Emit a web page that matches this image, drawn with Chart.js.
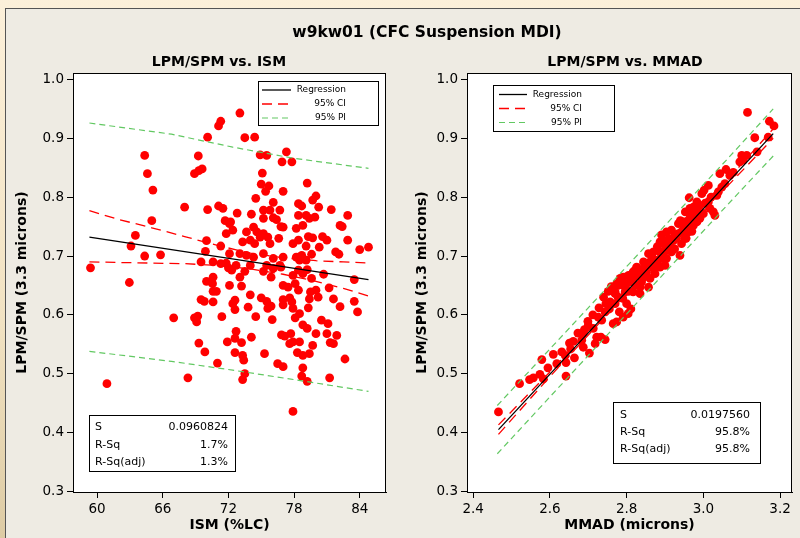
<!DOCTYPE html>
<html>
<head>
<meta charset="utf-8">
<script src="https://cdn.jsdelivr.net/npm/chart.js@4.4.0/dist/chart.umd.min.js"></script>
<style>
html, body { margin: 0; padding: 0; }
body { width: 800px; height: 538px; overflow: hidden; position: relative;
  background: linear-gradient(180deg, #fcf0da 0%, #f1e2c2 60%, #ddcba4 100%);
  font-family: "DejaVu Sans", sans-serif; }
#panel { position: absolute; left: 5px; top: 8px; width: 840px; height: 560px;
  background: #eeebe3; border-left: 1px solid #555; border-top: 1px solid #555; }
.ttl { position: absolute; font-weight: bold; white-space: nowrap; color: #000;
  transform: translate(-50%, -50%); }
canvas { position: absolute; top: 0; }
</style>
</head>
<body>
<div id="panel"></div>
<canvas id="left" width="400" height="538" style="left:0"></canvas>
<canvas id="right" width="400" height="538" style="left:400px"></canvas>
<div class="ttl" style="left:427px;top:32px;font-size:15.5px">w9kw01 (CFC Suspension MDI)</div>
<div class="ttl" style="left:219px;top:61px;font-size:14px">LPM/SPM vs. ISM</div>
<div class="ttl" style="left:625px;top:61px;font-size:14px">LPM/SPM vs. MMAD</div>
<script>
// ---- left panel: LPM/SPM vs ISM ----
const ismX = [71.3, 71.1, 70.1, 64.35, 69.25, 64.6, 68.9, 69.3, 69.6, 65.1,
  68.0, 70.1, 71.1, 71.5, 65.0, 71.7, 72.2, 63.5, 71.8, 63.1,
  70.0, 71.3, 69.9, 64.35, 65.8, 59.4, 69.5, 70.6, 71.3, 71.8,
  72.0, 73.05, 73.5, 74.4, 74.9, 75.5, 77.3, 76.9, 77.8, 75.1,
  75.0, 75.7, 75.4, 79.2, 77.0, 74.5, 80.0, 79.7, 72.8, 74.1,
  76.1, 75.2, 75.8, 76.7, 78.4, 78.7, 80.25, 81.4, 82.9, 75.2,
  76.1, 76.4, 76.8, 77.0, 78.4, 79.1, 79.4, 79.9, 72.1, 72.4,
  73.65, 74.3, 74.6, 75.2, 78.2, 78.8, 82.2, 82.4, 73.3, 74.0,
  74.4, 74.9, 75.6, 75.8, 76.6, 77.9, 78.4, 79.3, 79.7, 80.6,
  81.0, 82.9, 79.1, 80.3, 81.8, 82.1, 84.0, 84.8, 72.1, 73.05,
  73.65, 74.3, 75.2, 76.1, 77.0, 78.2, 78.7, 79.6, 72.7, 74.0,
  75.5, 76.7, 78.5, 79.1, 62.95, 70.0, 70.6, 70.55, 70.6, 70.9,
  72.1, 69.5, 69.8, 70.6, 72.4, 72.6, 67.0, 68.9, 69.2, 69.1,
  71.4, 69.3, 71.9, 72.6, 69.85, 71.0, 68.3, 60.9, 72.6, 72.3,
  73.5, 75.2, 76.1, 76.8, 78.4, 79.2, 73.05, 75.9, 77.9, 78.8,
  79.6, 80.7, 83.5, 73.2, 77.0, 77.45, 78.1, 78.4, 79.5, 80.0,
  81.2, 74.0, 75.0, 75.5, 77.0, 77.6, 77.8, 79.4, 80.2, 81.6,
  83.5, 72.6, 73.8, 75.9, 75.6, 77.0, 77.9, 79.3, 82.2, 83.8,
  74.5, 76.0, 78.1, 78.5, 80.5, 81.1, 78.8, 79.2, 72.7, 73.2,
  74.1, 76.85, 77.15, 77.7, 77.6, 77.9, 78.5, 80.0, 81.0, 81.3,
  81.6, 81.9, 79.7, 73.3, 73.4, 75.3, 78.3, 78.8, 79.4, 82.65,
  76.5, 77.0, 78.8, 73.5, 73.3, 78.7, 79.2, 81.25, 77.9];
const ismY = [0.929, 0.921, 0.902, 0.871, 0.870, 0.840, 0.840, 0.845, 0.848, 0.812,
  0.783, 0.779, 0.785, 0.781, 0.760, 0.760, 0.758, 0.735, 0.738, 0.717,
  0.726, 0.717, 0.708, 0.700, 0.702, 0.680, 0.690, 0.690, 0.687, 0.688,
  0.680, 0.943, 0.901, 0.902, 0.872, 0.871, 0.877, 0.860, 0.860, 0.841,
  0.822, 0.819, 0.810, 0.824, 0.810, 0.798, 0.802, 0.795, 0.773, 0.771,
  0.791, 0.778, 0.778, 0.778, 0.789, 0.785, 0.783, 0.779, 0.769, 0.764,
  0.765, 0.762, 0.750, 0.749, 0.769, 0.769, 0.764, 0.766, 0.755, 0.744,
  0.741, 0.749, 0.741, 0.738, 0.747, 0.752, 0.752, 0.750, 0.724, 0.727,
  0.721, 0.732, 0.732, 0.721, 0.730, 0.721, 0.727, 0.733, 0.731, 0.733,
  0.727, 0.727, 0.717, 0.715, 0.707, 0.703, 0.711, 0.715, 0.704, 0.704,
  0.701, 0.698, 0.704, 0.696, 0.698, 0.698, 0.701, 0.703, 0.684, 0.684,
  0.684, 0.684, 0.693, 0.693, 0.655, 0.657, 0.664, 0.653, 0.640, 0.640,
  0.650, 0.626, 0.623, 0.622, 0.619, 0.625, 0.595, 0.595, 0.598, 0.588,
  0.597, 0.552, 0.554, 0.560, 0.537, 0.518, 0.493, 0.483, 0.536, 0.676,
  0.674, 0.674, 0.679, 0.681, 0.676, 0.677, 0.664, 0.664, 0.667, 0.670,
  0.662, 0.669, 0.660, 0.649, 0.650, 0.647, 0.653, 0.642, 0.639, 0.642,
  0.646, 0.634, 0.629, 0.623, 0.626, 0.629, 0.622, 0.627, 0.630, 0.627,
  0.623, 0.609, 0.613, 0.615, 0.611, 0.617, 0.611, 0.612, 0.614, 0.605,
  0.597, 0.592, 0.595, 0.602, 0.591, 0.585, 0.583, 0.577, 0.572, 0.553,
  0.562, 0.566, 0.564, 0.568, 0.551, 0.554, 0.554, 0.568, 0.568, 0.553,
  0.551, 0.565, 0.548, 0.531, 0.523, 0.534, 0.536, 0.531, 0.534, 0.525,
  0.517, 0.512, 0.510, 0.500, 0.490, 0.496, 0.487, 0.493, 0.436];

const regLX = [59.3, 84.8];
const regLY = [0.732, 0.660];
const ciLX = [59.3, 62, 65, 68, 71, 74, 77, 80, 82.5, 84.8];
const ciLUp = [0.777, 0.762, 0.748, 0.733, 0.718, 0.705, 0.697, 0.692, 0.690, 0.688];
const ciLLo = [0.690, 0.689, 0.688, 0.687, 0.684, 0.678, 0.669, 0.657, 0.645, 0.632];
const piLX = [59.3, 66.8, 72.4, 78, 84.8];
const piLUp = [0.926, 0.907, 0.885, 0.866, 0.849];
const piLLo = [0.538, 0.521, 0.506, 0.490, 0.470];

// ---- right panel: LPM/SPM vs MMAD ----
const mmadX = [2.466, 2.521, 2.547, 2.557, 2.574, 2.583, 2.579, 2.595, 2.609, 2.618,
  2.631, 2.640, 2.642, 2.642, 2.651, 2.661, 2.654, 2.664, 2.673, 2.687,
  2.683, 2.687, 2.703, 2.699, 2.713, 2.722, 2.718, 2.726, 2.735, 2.733,
  2.744, 2.746, 2.755, 2.744, 2.757, 2.765, 2.774, 2.781, 2.791, 2.804,
  2.811, 2.800, 2.774, 2.783, 2.791, 2.800, 2.805, 2.817, 2.822, 2.826,
  2.830, 2.770, 2.778, 2.770,
  3.115, 3.172, 3.184, 3.134, 3.169, 3.140, 3.100, 3.113, 3.104, 3.095,
  3.043, 3.059, 3.069, 3.078, 3.056, 3.048, 3.039, 3.035, 3.013, 3.002,
  2.996, 2.963, 2.983, 2.991, 2.974, 2.965, 3.013, 3.017, 3.026, 3.030,
  2.953, 2.966, 2.978, 2.991, 3.000, 2.935, 2.948, 2.961, 2.974, 2.983,
  2.891, 2.904, 2.917, 2.926, 2.943, 2.961, 2.887, 2.900, 2.913, 2.930,
  2.943, 2.952, 2.857, 2.870, 2.887, 2.904, 2.917, 2.939, 2.844, 2.861,
  2.874, 2.891, 2.904, 2.848, 2.870, 2.887, 2.900, 2.817, 2.830, 2.844,
  2.861, 2.874, 2.857, 2.835, 2.809, 2.783, 2.778, 2.796, 2.817, 2.835,
  2.770,
  2.805, 2.823, 2.839, 2.852, 2.866, 2.880, 2.895, 2.910, 2.922, 2.935,
  2.948, 2.960, 2.972, 2.985, 2.880, 2.866, 2.846, 2.828, 2.812, 2.795,
  2.790, 2.752, 2.760, 2.925, 2.910, 2.895, 2.940, 2.955, 2.970, 3.005,
  3.020, 2.740, 2.728, 2.712, 2.700, 2.690];
const mmadY = [0.435, 0.483, 0.490, 0.493, 0.499, 0.491, 0.524, 0.510, 0.533, 0.517,
  0.537, 0.531, 0.519, 0.496, 0.552, 0.555, 0.542, 0.527, 0.569, 0.569,
  0.557, 0.545, 0.535, 0.589, 0.577, 0.562, 0.551, 0.596, 0.591, 0.562,
  0.558, 0.619, 0.610, 0.605, 0.622, 0.585, 0.588, 0.605, 0.596, 0.602,
  0.610, 0.619, 0.653, 0.659, 0.664, 0.653, 0.667, 0.662, 0.676, 0.681,
  0.670, 0.636, 0.630, 0.619,
  0.944, 0.929, 0.921, 0.901, 0.902, 0.877, 0.871, 0.871, 0.863, 0.860,
  0.840, 0.847, 0.837, 0.842, 0.823, 0.817, 0.809, 0.803, 0.820, 0.812,
  0.806, 0.799, 0.792, 0.786, 0.783, 0.781, 0.792, 0.781, 0.775, 0.769,
  0.775, 0.766, 0.769, 0.764, 0.772, 0.755, 0.758, 0.752, 0.752, 0.758,
  0.736, 0.741, 0.744, 0.735, 0.741, 0.741, 0.724, 0.718, 0.724, 0.730,
  0.721, 0.730, 0.704, 0.707, 0.707, 0.710, 0.707, 0.701, 0.690, 0.690,
  0.693, 0.696, 0.696, 0.681, 0.679, 0.681, 0.684, 0.673, 0.667, 0.664,
  0.662, 0.670, 0.647, 0.647, 0.656, 0.662, 0.650, 0.639, 0.639, 0.636,
  0.639,
  0.640, 0.651, 0.656, 0.672, 0.684, 0.689, 0.703, 0.716, 0.726, 0.738,
  0.745, 0.760, 0.770, 0.776, 0.716, 0.699, 0.676, 0.680, 0.668, 0.648,
  0.628, 0.640, 0.648, 0.712, 0.730, 0.726, 0.760, 0.730, 0.742, 0.790,
  0.800, 0.630, 0.612, 0.600, 0.582, 0.575];

const regRX = [2.466, 3.182];
const regRY = [0.405, 0.908];
const ciRX = [2.466, 2.6, 2.75, 2.85, 3.0, 3.182];
const ciRUp = [0.413, 0.503, 0.608, 0.678, 0.784, 0.916];
const ciRLo = [0.397, 0.495, 0.601, 0.672, 0.776, 0.900];
const piRX = [2.463, 2.7, 2.9, 3.06, 3.182];
const piRUp = [0.446, 0.612, 0.752, 0.863, 0.950];
const piRLo = [0.364, 0.531, 0.672, 0.785, 0.870];

const yTicks = [0.3, 0.4, 0.5, 0.6, 0.7, 0.8, 0.9, 1.0];
const xTicksL = [60, 66, 72, 78, 84];
const xTicksR = [2.4, 2.6, 2.8, 3.0, 3.2];
const legendLabels = ['Regression', '95% CI', '95% PI'];
const statNames = ['S', 'R-Sq', 'R-Sq(adj)'];
const statsL = ['0.0960824', '1.7%', '1.3%'];
const statsR = ['0.0197560', '95.8%', '95.8%'];

const FONT = '"DejaVu Sans", sans-serif';
Chart.defaults.font.family = FONT;
Chart.defaults.color = '#000';

const RED = '#ff0000';
const GREEN = '#62c862';
const lineStyles = [
  {color: '#000', dash: [], width: 1.3},
  {color: RED, dash: [10, 6], width: 1.3},
  {color: GREEN, dash: [6, 4], width: 1.2}
];

function pts(xs, ys) { return xs.map((x, i) => ({x: x, y: ys[i]})); }

function lineSet(xs, ys, st) {
  return {data: pts(xs, ys), showLine: true, pointRadius: 0, borderColor: st.color,
    borderWidth: st.width, borderDash: st.dash, fill: false, tension: 0, order: 0};
}

const panelPlugin = {
  id: 'panelBoxes',
  beforeDraw(chart) {
    const {ctx, chartArea: a} = chart;
    ctx.save();
    ctx.fillStyle = '#fff';
    ctx.fillRect(a.left, a.top, a.right - a.left, a.bottom - a.top);
    ctx.restore();
  },
  afterDraw(chart, args, o) {
    const {ctx, chartArea: a} = chart;
    ctx.save();
    ctx.strokeStyle = '#000';
    ctx.lineWidth = 1;
    ctx.strokeRect(Math.round(a.left) + 0.5, Math.round(a.top) + 0.5,
      Math.round(a.right - a.left) - 1, Math.round(a.bottom - a.top));

    // legend box
    const L = o.legend;
    let bx = Math.round(a.left + L.x), by = Math.round(a.top + L.y);
    ctx.fillStyle = '#fff';
    ctx.fillRect(bx, by, L.w, L.h);
    ctx.strokeRect(bx + 0.5, by + 0.5, L.w, L.h);
    ctx.font = '9px ' + FONT;
    ctx.textAlign = 'right';
    ctx.textBaseline = 'middle';
    legendLabels.forEach((t, i) => {
      const st = lineStyles[i];
      const yy = by + L.rows[i];
      ctx.beginPath();
      ctx.setLineDash(st.dash);
      ctx.strokeStyle = st.color;
      ctx.lineWidth = st.width;
      ctx.moveTo(bx + L.l0, yy);
      ctx.lineTo(bx + L.l1, yy);
      ctx.stroke();
      ctx.setLineDash([]);
      ctx.fillStyle = '#000';
      ctx.fillText(t, bx + L.tx, yy);
    });

    // stats box
    const S = o.stats;
    bx = Math.round(a.left + S.x); by = Math.round(a.top + S.y);
    ctx.fillStyle = '#fff';
    ctx.fillRect(bx, by, S.w, S.h);
    ctx.strokeStyle = '#000';
    ctx.lineWidth = 1;
    ctx.strokeRect(bx + 0.5, by + 0.5, S.w, S.h);
    ctx.font = '11px ' + FONT;
    ctx.fillStyle = '#000';
    statNames.forEach((t, i) => {
      const yy = by + S.rows[i];
      ctx.textAlign = 'left';
      ctx.fillText(t, bx + S.tx0, yy);
      ctx.textAlign = 'right';
      ctx.fillText(S.values[i], bx + S.tx1, yy);
    });
    ctx.restore();
  }
};

function makeChart(id, cfg) {
  const datasets = [
    lineSet(cfg.regX, cfg.regY, lineStyles[0]),
    lineSet(cfg.ciX, cfg.ciUp, lineStyles[1]),
    lineSet(cfg.ciX, cfg.ciLo, lineStyles[1]),
    lineSet(cfg.piX, cfg.piUp, lineStyles[2]),
    lineSet(cfg.piX, cfg.piLo, lineStyles[2]),
    {data: pts(cfg.px, cfg.py), pointRadius: 4.4, pointBackgroundColor: RED,
      pointBorderWidth: 0, pointBorderColor: RED, showLine: false, order: 1}
  ];
  const axisGrid = {display: true, drawOnChartArea: false, drawTicks: true,
    tickLength: 6, color: '#000', lineWidth: 1};
  return new Chart(document.getElementById(id), {
    type: 'scatter',
    data: {datasets: datasets},
    options: {
      responsive: false,
      animation: false,
      events: [],
      layout: {padding: {top: 73, right: cfg.padRight, left: 0, bottom: 0}},
      plugins: {
        legend: {display: false},
        tooltip: {enabled: false},
        panelBoxes: {legend: cfg.legendBox, stats: cfg.statsBox}
      },
      scales: {
        x: {
          type: 'linear', min: cfg.xMin, max: cfg.xMax,
          afterBuildTicks: s => { s.ticks = cfg.xTicks.map(v => ({value: v})); },
          afterFit: s => { s.height = 46; },
          grid: axisGrid,
          border: {display: true, color: '#000'},
          ticks: {color: '#000', padding: 3, font: {size: 13.5},
            callback: v => cfg.xFmt(v)},
          title: {display: true, text: cfg.xTitle, color: '#000',
            font: {size: 14, weight: 'bold'}, padding: {top: 0, bottom: 4}}
        },
        y: {
          type: 'linear', min: 0.299, max: 1.011,
          afterBuildTicks: s => { s.ticks = yTicks.map(v => ({value: v})); },
          afterFit: s => { s.width = cfg.yWidth; },
          grid: axisGrid,
          border: {display: true, color: '#000'},
          ticks: {color: '#000', padding: 3, font: {size: 13.5},
            callback: v => v.toFixed(1)},
          title: {display: true, text: 'LPM/SPM (3.3 microns)', color: '#000',
            font: {size: 14, weight: 'bold'}, padding: {top: 14, bottom: 0}}
        }
      }
    },
    plugins: [panelPlugin]
  });
}

makeChart('left', {
  regX: regLX, regY: regLY, ciX: ciLX, ciUp: ciLUp, ciLo: ciLLo,
  piX: piLX, piUp: piLUp, piLo: piLLo, px: ismX, py: ismY,
  xMin: 57.8, xMax: 86.4, xTicks: xTicksL, xFmt: v => String(v),
  xTitle: 'ISM (%LC)', yWidth: 73, padRight: 14,
  legendBox: {x: 185, y: 8, w: 120, h: 44, rows: [9, 23, 37], l0: 4, l1: 33, tx: 88},
  statsBox: {x: 16, y: 342, w: 146, h: 56, rows: [12.5, 30, 47], tx0: 6, tx1: 139, values: statsL}
});

makeChart('right', {
  regX: regRX, regY: regRY, ciX: ciRX, ciUp: ciRUp, ciLo: ciRLo,
  piX: piRX, piUp: piRUp, piLo: piRLo, px: mmadX, py: mmadY,
  xMin: 2.384, xMax: 3.231, xTicks: xTicksR, xFmt: v => v.toFixed(1),
  xTitle: 'MMAD (microns)', yWidth: 67, padRight: 8,
  legendBox: {x: 26, y: 12, w: 121, h: 46, rows: [9.5, 23.5, 37.5], l0: 6, l1: 34, tx: 89},
  statsBox: {x: 146, y: 329, w: 147, h: 61, rows: [13.5, 30.5, 47.5], tx0: 7, tx1: 137, values: statsR}
});
</script>
</body>
</html>
